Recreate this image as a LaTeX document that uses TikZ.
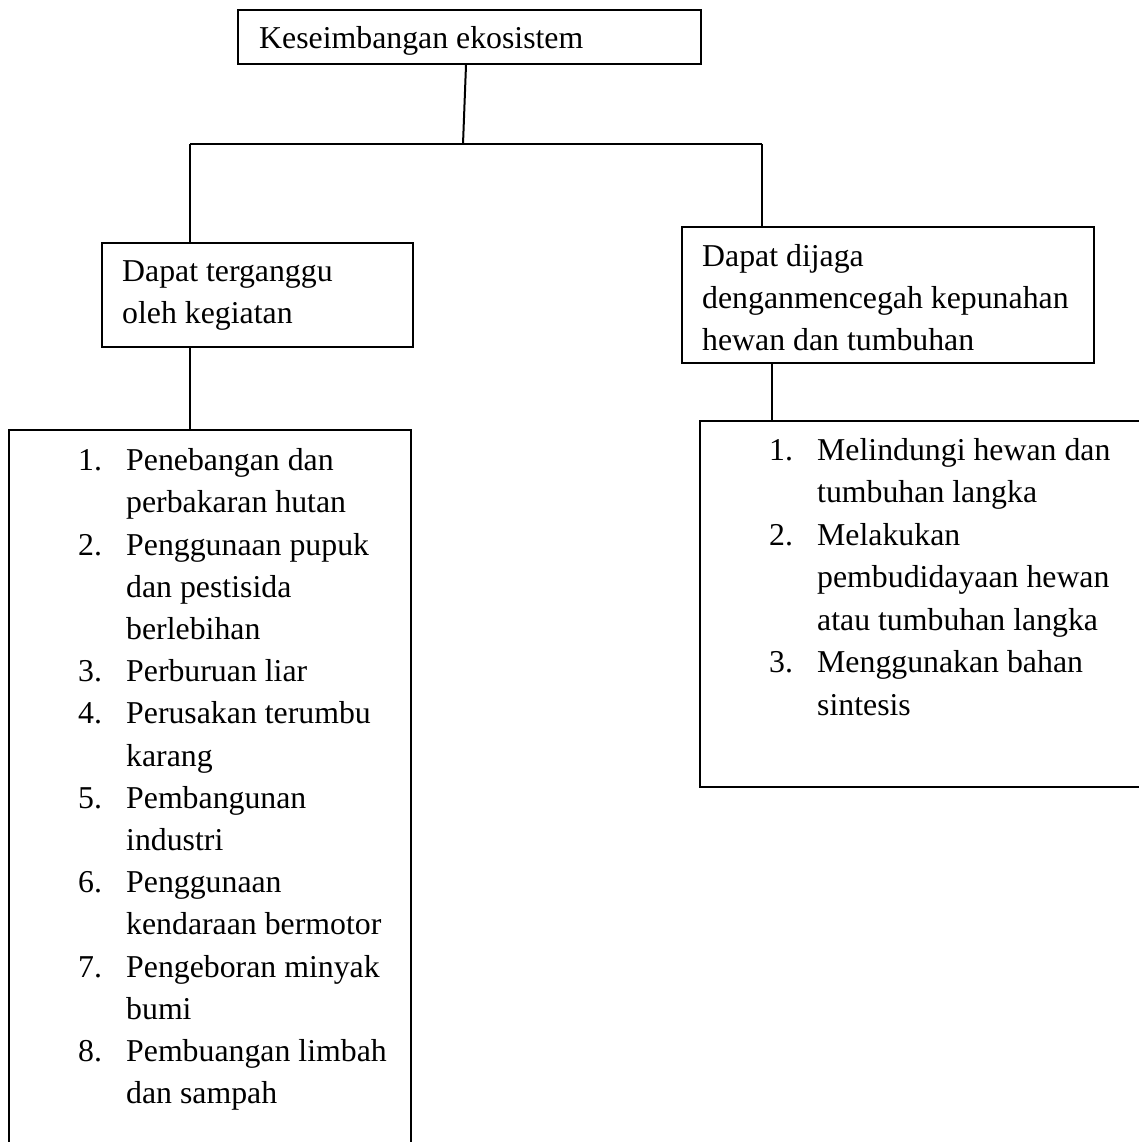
\documentclass[tikz,border=0pt]{standalone}
\usepackage{fontspec}
\setmainfont{Liberation Serif}
\begin{document}
\begin{tikzpicture}[x=1pt,y=-1pt,
  box/.style={draw=black,line width=2pt,inner sep=0pt,anchor=north west},
  frame/.style={draw=black,line width=2pt},
  link/.style={draw=black,line width=2pt},
  txt/.style={anchor=base west,inner sep=0pt,font=\fontsize{31.8}{40}\selectfont}]
\useasboundingbox[fill=white] (0,0) rectangle (1138,1142);

% boxes
\node[box,minimum width=463pt,minimum height=54pt] (top) at (237,9) {};
\node[box,minimum width=311pt,minimum height=104pt] (lbox) at (101,242) {};
\node[box,minimum width=412pt,minimum height=136pt] (rbox) at (681,226) {};

% open list frames (cut by the page edge)
\coordinate (llnw) at (9,430);
\coordinate (llne) at (411,430);
\draw[frame] (9,1150) -- (llnw) -- (llne) -- (411,1150);
\coordinate (rlnw) at (700,421);
\coordinate (rlsw) at (700,787);
\draw[frame] (1140,421) -- (rlnw) -- (rlsw) -- (1140,787);

% connectors
\coordinate (jt) at (463,144);
\coordinate (jl) at (190,144);
\coordinate (jr) at (762,144);
\coordinate (cl) at (190,430);
\coordinate (cr) at (772,421);
\draw[link] ([xshift=-3.5pt]top.south) -- (jt);
\draw[link] (jl) -- (jr);
\draw[link] (jl) -- (jl |- lbox.north);
\draw[link] (jr) -- (jr |- rbox.north);
\draw[link] (cl |- lbox.south) -- (cl);
\draw[link] (cr |- rbox.south) -- (cr);

% texts
\node[txt] (t0) at (259,49) {Keseimbangan ekosistem};

\node[txt] (l1) at (122,281.5) {Dapat terganggu};
\node[txt] (l2) at (122,323) {oleh kegiatan};

\node[txt] (r1) at (702,266) {Dapat dijaga};
\node[txt] (r2) at (702,308) {denganmencegah kepunahan};
\node[txt] (r3) at (702,350) {hewan dan tumbuhan};

% left list
\node[txt] (ln1) at (78,470.7) {1.};
\node[txt] (ln2) at (78,555.1) {2.};
\node[txt] (ln3) at (78,681.7) {3.};
\node[txt] (ln4) at (78,723.9) {4.};
\node[txt] (ln5) at (78,808.3) {5.};
\node[txt] (ln6) at (78,892.7) {6.};
\node[txt] (ln7) at (78,977.1) {7.};
\node[txt] (ln8) at (78,1061.5) {8.};

\node[txt] (la1) at (126,470.7) {Penebangan dan};
\node[txt] (la2) at (126,512.9) {perbakaran hutan};
\node[txt] (la3) at (126,555.1) {Penggunaan pupuk};
\node[txt] (la4) at (126,597.3) {dan pestisida};
\node[txt] (la5) at (126,639.5) {berlebihan};
\node[txt] (la6) at (126,681.7) {Perburuan liar};
\node[txt] (la7) at (126,723.9) {Perusakan terumbu};
\node[txt] (la8) at (126,766.1) {karang};
\node[txt] (la9) at (126,808.3) {Pembangunan};
\node[txt] (la10) at (126,850.5) {industri};
\node[txt] (la11) at (126,892.7) {Penggunaan};
\node[txt] (la12) at (126,934.9) {kendaraan bermotor};
\node[txt] (la13) at (126,977.1) {Pengeboran minyak};
\node[txt] (la14) at (126,1019.3) {bumi};
\node[txt] (la15) at (126,1061.5) {Pembuangan limbah};
\node[txt] (la16) at (126,1103.7) {dan sampah};

% right list
\node[txt] (rn1) at (769,460) {1.};
\node[txt] (rn2) at (769,545) {2.};
\node[txt] (rn3) at (769,672.5) {3.};

\node[txt] (ra1) at (817,460) {Melindungi hewan dan};
\node[txt] (ra2) at (817,502.5) {tumbuhan langka};
\node[txt] (ra3) at (817,545) {Melakukan};
\node[txt] (ra4) at (817,587.5) {pembudidayaan hewan};
\node[txt] (ra5) at (817,630) {atau tumbuhan langka};
\node[txt] (ra6) at (817,672.5) {Menggunakan bahan};
\node[txt] (ra7) at (817,715) {sintesis};
\end{tikzpicture}
\end{document}
